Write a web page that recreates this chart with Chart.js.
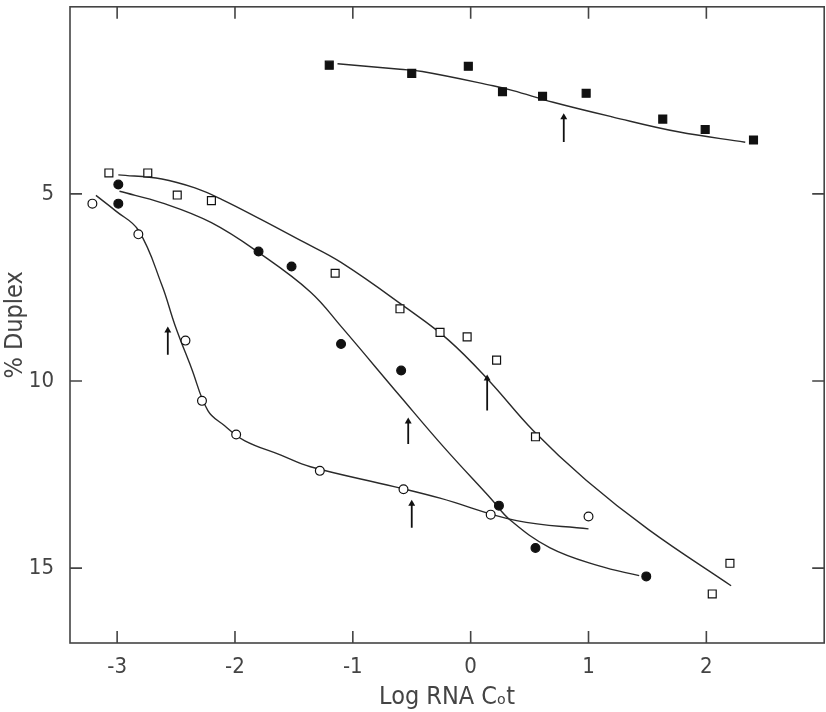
<!DOCTYPE html>
<html>
<head>
<meta charset="utf-8">
<script src="https://cdn.jsdelivr.net/npm/chart.js@4"></script>
<style>
  html, body { margin: 0; padding: 0; background: #fff; overflow: hidden; }
  #wrap { width: 831px; height: 712px; position: relative; }
  canvas { display: block; }
</style>
</head>
<body>
<div id="wrap"><canvas id="chart"></canvas></div>
<script>
// tick labels
const xTicks = [-3, -2, -1, 0, 1, 2];
const yTicks = [5, 10, 15];

// filled squares
const fsqX = [-1.20, -0.50, -0.02, 0.27, 0.61, 0.98, 1.63, 1.99, 2.40];
const fsqY = [1.56, 1.78, 1.59, 2.27, 2.39, 2.31, 3.00, 3.28, 3.56];
const fsqCurveX = [-1.13, -0.60, -0.41, 0.19, 0.36, 0.70, 1.20, 1.76, 2.33];
const fsqCurveY = [1.52, 1.67, 1.73, 2.11, 2.24, 2.55, 2.94, 3.34, 3.62];

// open squares
const osqX = [-3.07, -2.74, -2.49, -2.20, -1.15, -0.60, -0.26, -0.03, 0.22, 0.55, 2.05, 2.20];
const osqY = [4.44, 4.44, 5.03, 5.18, 7.12, 8.07, 8.70, 8.82, 9.44, 11.49, 15.69, 14.87];
const osqCurveX = [-2.99, -2.62, -2.34, -2.11, -1.78, -1.44, -1.10, -0.54, -0.19, 0.15, 0.53, 0.98, 1.51, 2.21];
const osqCurveY = [4.49, 4.60, 4.84, 5.15, 5.68, 6.25, 6.83, 8.06, 8.90, 9.97, 11.32, 12.65, 13.97, 15.47];

// filled circles
const fciX = [-2.99, -2.99, -1.80, -1.52, -1.10, -0.59, 0.24, 0.55, 1.49];
const fciY = [4.75, 5.26, 6.54, 6.94, 9.01, 9.72, 13.33, 14.46, 15.22];
const fciCurveX = [-2.98, -2.62, -2.20, -1.78, -1.36, -1.10, -0.60, -0.23, 0.18, 0.33, 0.67, 1.09, 1.43];
const fciCurveY = [4.93, 5.24, 5.77, 6.61, 7.62, 8.54, 10.40, 11.76, 13.17, 13.70, 14.45, 14.94, 15.20];

// open circles
const ociX = [-3.21, -2.82, -2.42, -2.28, -1.99, -1.28, -0.57, 0.17, 1.00];
const ociY = [5.26, 6.08, 8.92, 10.53, 11.43, 12.40, 12.89, 13.57, 13.62];
const ociCurveX = [-3.18, -3.01, -2.82, -2.62, -2.51, -2.37, -2.23, -2.09, -1.92, -1.61, -1.36, -0.65, -0.26, 0.39, 1.00];
const ociCurveY = [5.04, 5.46, 5.97, 7.44, 8.50, 9.65, 10.79, 11.19, 11.59, 11.98, 12.29, 12.82, 13.13, 13.73, 13.95];

// arrows: x, base, tip
const arrowX = [0.79, -2.57, -0.53, 0.14, -0.50];
const arrowBase = [3.61, 9.30, 11.68, 10.79, 13.92];
const arrowTip = [2.95, 8.65, 11.08, 9.93, 13.28];

const ink = '#2a2a2a';
const font = "'Liberation Sans Narrow', 'DejaVu Sans Condensed', sans-serif";

function pts(xs, ys) {
    return xs.map((x, i) => ({ x: x, y: ys[i] }));
}

function curve(xs, ys) {
    return {
        type: 'line', data: pts(xs, ys), order: 2,
        borderColor: ink, borderWidth: 1.4, pointRadius: 0,
        tension: 0.4, fill: false
    };
}

function marks(xs, ys, style, filled) {
    return {
        type: 'scatter', data: pts(xs, ys), order: 0,
        pointStyle: style, pointRadius: style == 'rect' ? 5.6 : 4.4,
        pointBackgroundColor: filled ? '#111' : '#fff',
        pointBorderColor: '#111', pointBorderWidth: 1.2, showLine: false
    };
}

let datasets = [
    curve(fsqCurveX, fsqCurveY), curve(osqCurveX, osqCurveY),
    curve(fciCurveX, fciCurveY), curve(ociCurveX, ociCurveY),
    marks(fsqX, fsqY, 'rect', true), marks(osqX, osqY, 'rect', false),
    marks(fciX, fciY, 'circle', true), marks(ociX, ociY, 'circle', false)
];

for (let i = 0; i < arrowX.length; i++) {
    datasets.push({
        type: 'line', order: 1,
        data: [{ x: arrowX[i], y: arrowBase[i] }, { x: arrowX[i], y: arrowTip[i] }],
        borderColor: '#111', borderWidth: 1.8,
        pointStyle: 'triangle', pointRadius: [0, 4],
        pointBackgroundColor: '#111', pointBorderColor: '#111', pointBorderWidth: 0
    });
}

// frame with inward ticks on all four sides
const frame = {
    id: 'frame',
    afterDraw(chart) {
        const ctx = chart.ctx;
        const a = chart.chartArea;
        const xs = chart.scales.x, ys = chart.scales.y;
        ctx.save();
        ctx.strokeStyle = '#444';
        ctx.lineWidth = 1.6;
        ctx.strokeRect(a.left, a.top, a.right - a.left, a.bottom - a.top);
        ctx.beginPath();
        for (let t of xTicks) {
            let px = xs.getPixelForValue(t);
            ctx.moveTo(px, a.bottom); ctx.lineTo(px, a.bottom - 12);
            ctx.moveTo(px, a.top); ctx.lineTo(px, a.top + 12);
        }
        for (let t of yTicks) {
            let py = ys.getPixelForValue(t);
            ctx.moveTo(a.left, py); ctx.lineTo(a.left + 12, py);
            ctx.moveTo(a.right, py); ctx.lineTo(a.right - 12, py);
        }
        ctx.stroke();
        ctx.restore();
    }
};

new Chart(document.getElementById('chart'), {
    data: { datasets: datasets },
    options: {
        responsive: true, maintainAspectRatio: false, animation: false,
        layout: { padding: { left: 0, right: 0, top: 5, bottom: 0 } },
        plugins: { legend: { display: false }, tooltip: { enabled: false } },
        scales: {
            x: {
                type: 'linear', min: -3.4, max: 3.0,
                afterBuildTicks: s => { s.ticks = xTicks.map(v => ({ value: v })); },
                afterFit: s => { s.height = 69; s.paddingLeft = 0; s.paddingRight = 0; },
                grid: { display: false }, border: { display: false },
                ticks: { color: '#444', font: { family: font, size: 22 }, padding: 3 },
                title: { display: true, text: 'Log RNA C\u2092t', color: '#444', font: { family: font, size: 25 }, padding: { top: 0, bottom: 0 } }
            },
            y: {
                type: 'linear', min: 0, max: 17, reverse: true,
                afterBuildTicks: s => { s.ticks = yTicks.map(v => ({ value: v })); },
                afterFit: s => { s.width = 70; s.paddingTop = 0; s.paddingBottom = 0; },
                grid: { display: false }, border: { display: false },
                ticks: { color: '#444', font: { family: font, size: 22 }, padding: 8 },
                title: { display: true, text: '% Duplex', color: '#444', font: { family: font, size: 25 }, padding: { top: 0, bottom: 4 } }
            }
        }
    },
    plugins: [frame]
});
</script>
</body>
</html>
